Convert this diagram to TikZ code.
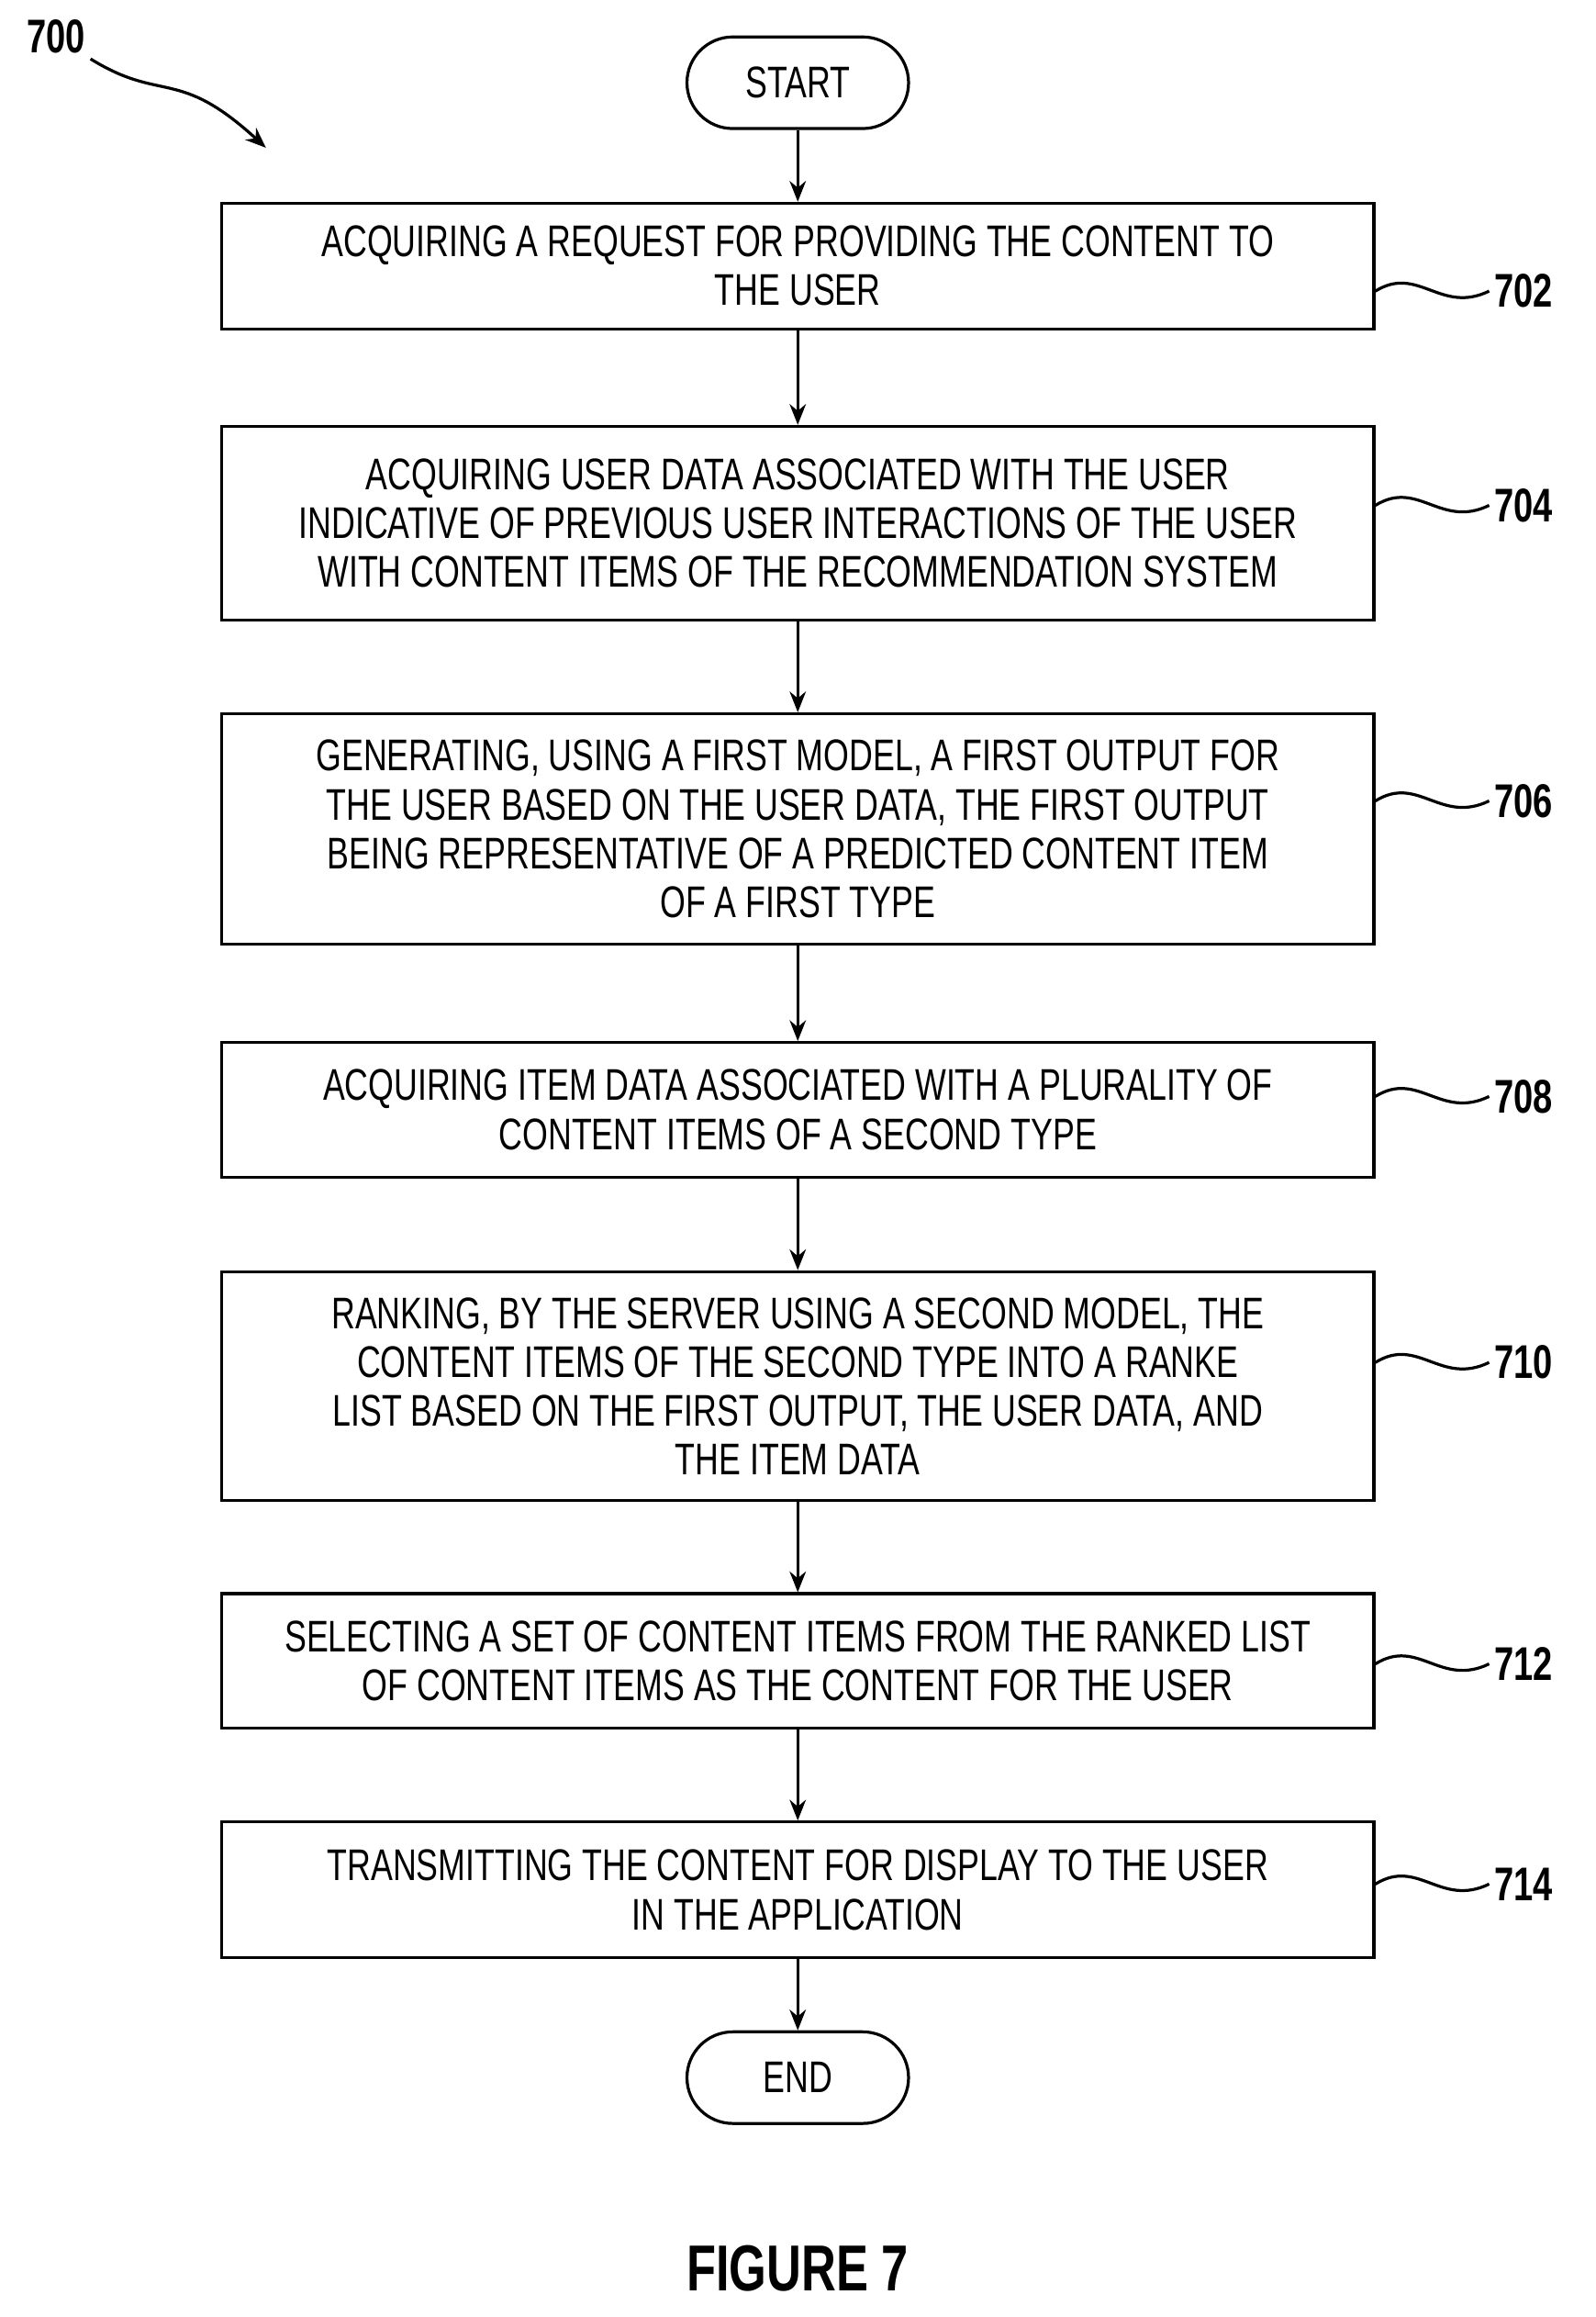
\documentclass[tikz,border=0pt]{standalone}
\usepackage{fontspec}
\setmainfont{Liberation Sans}[FakeStretch=0.74]
\usetikzlibrary{arrows.meta, positioning}
\tikzset{
  fcarrow/.style={-{Stealth[length=14pt,width=11pt]}, line width=2pt},
  fcstep/.style={rectangle, draw, line width=2pt, minimum width=780pt, align=center,
    font=\fontsize{30}{33}\selectfont, inner sep=4pt},
  fcterm/.style={rectangle, draw, line width=2pt, rounded corners=31pt, minimum width=150pt,
    minimum height=62pt, font=\fontsize{30}{33}\selectfont},
  fcref/.style={font=\bfseries\fontsize{32}{36}\selectfont},
  fclead/.style={line width=2pt},
}
\begin{document}
\begin{tikzpicture}[x=1pt, y=-1pt]
  \useasboundingbox (0,0) rectangle (1080,1568);
  % Terminals and steps.
  \node[fcterm] (start) at (540,56) {START};
  \node[fcstep, minimum height=85pt] (s702) at (540,180) {ACQUIRING A REQUEST FOR PROVIDING THE CONTENT TO\\THE USER};
  \node[fcstep, minimum height=131pt] (s704) at (540,354) {ACQUIRING USER DATA ASSOCIATED WITH THE USER\\INDICATIVE OF PREVIOUS USER INTERACTIONS OF THE USER\\WITH CONTENT ITEMS OF THE RECOMMENDATION SYSTEM};
  \node[fcstep, minimum height=156pt] (s706) at (540,561) {GENERATING, USING A FIRST MODEL, A FIRST OUTPUT FOR\\THE USER BASED ON THE USER DATA, THE FIRST OUTPUT\\BEING REPRESENTATIVE OF A PREDICTED CONTENT ITEM\\OF A FIRST TYPE};
  \node[fcstep, minimum height=91pt] (s708) at (540,751) {ACQUIRING ITEM DATA ASSOCIATED WITH A PLURALITY OF\\CONTENT ITEMS OF A SECOND TYPE};
  \node[fcstep, minimum height=155pt] (s710) at (540,938) {RANKING, BY THE SERVER USING A SECOND MODEL, THE\\CONTENT ITEMS OF THE SECOND TYPE INTO A RANKE\\LIST BASED ON THE FIRST OUTPUT, THE USER DATA, AND\\THE ITEM DATA};
  \node[fcstep, minimum height=91pt] (s712) at (540,1124) {SELECTING A SET OF CONTENT ITEMS FROM THE RANKED LIST\\OF CONTENT ITEMS AS THE CONTENT FOR THE USER};
  \node[fcstep, minimum height=92pt] (s714) at (540,1279) {TRANSMITTING THE CONTENT FOR DISPLAY TO THE USER\\IN THE APPLICATION};
  \node[fcterm] (end) at (540,1406) {END};

  % Flow.
  \foreach \a/\b in {start/s702, s702/s704, s704/s706, s706/s708, s708/s710, s710/s712, s712/s714, s714/end}
    \draw[fcarrow] (\a) -- (\b);

  % Reference numerals.
  \foreach \n/\y in {702/197, 704/342, 706/542, 708/742, 710/922, 712/1126, 714/1275} {
    \node[fcref, anchor=west] (r\n) at (1008,\y) {\n};
    \draw[fclead] (s\n.east |- 0,\y) .. controls (960,\y-18) and (975,\y+16) .. (r\n.west);
  }

  % Figure number and caption.
  \node[fcref] (r700) at (38,25) {700};
  \coordinate (a700) at (180,100);
  \draw[fclead, -{Stealth[length=14pt,width=11pt]}] (r700.south east) .. controls (110,70) and (120,45) .. (a700);
  \node[font=\bfseries\fontsize{44}{48}\selectfont] (fig) at (540,1535) {FIGURE 7};
\end{tikzpicture}
\end{document}
